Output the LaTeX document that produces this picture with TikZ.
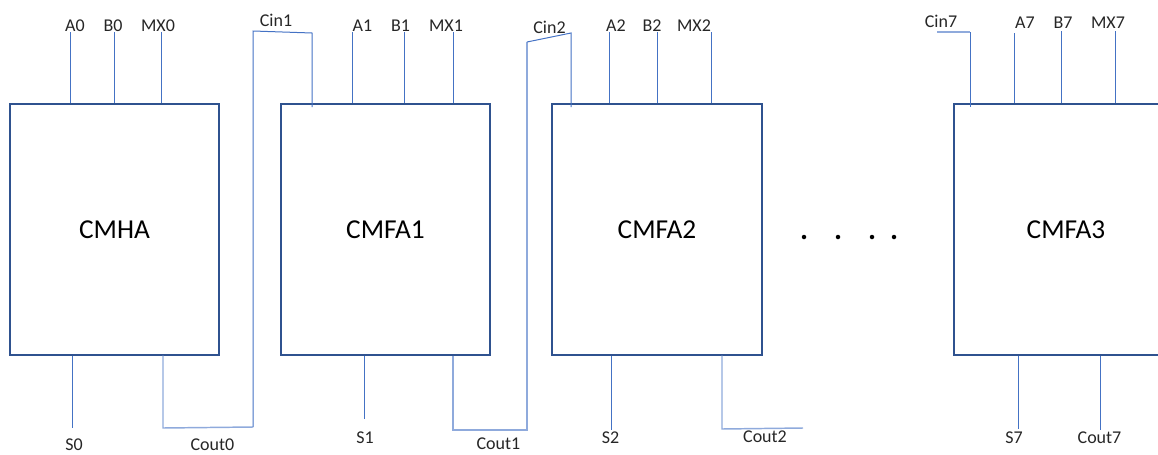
\documentclass[tikz,border=0pt]{standalone}
\usepackage{fontspec}
\setmainfont{Carlito}
\definecolor{boxblue}{HTML}{2F528F}
\definecolor{wireblue}{HTML}{4472C4}
\definecolor{lightwire}{HTML}{8FAADC}
\begin{document}
\begin{tikzpicture}[x=0.75pt,y=-0.75pt,
  blk/.style={draw=boxblue,line width=0.8pt,minimum height=251*0.75pt,inner sep=0pt,font=\fontsize{20.5}{23}\selectfont},
  wire/.style={draw=wireblue,line width=0.75pt},
  cwire/.style={draw=lightwire,line width=1.1pt},
  lbl/.style={font=\fontsize{13.5}{15}\selectfont,inner sep=0pt,text=black!85},
  dotc/.style={circle,fill=black,inner sep=0pt,minimum size=4.5*0.75pt}]
\clip (0,0) rectangle (1158,454);
\useasboundingbox (0,0) rectangle (1158,454);
% blocks
\node[blk,minimum width=209*0.75pt] (cmha) at (114.5,229.5) {CMHA};
\node[blk,minimum width=209*0.75pt] (cmfa1) at (385.5,229.5) {CMFA1};
\node[blk,minimum width=210*0.75pt] (cmfa2) at (657,229.5) {CMFA2};
\node[blk,minimum width=224*0.75pt] (cmfa3) at (1066,229.5) {CMFA3};
% top labels
\node[lbl] (A0) at (75,26) {A0};
\node[lbl] (B0) at (113,26) {B0};
\node[lbl] (MX0) at (158,26) {MX0};
\node[lbl] (Cin1) at (276,20) {Cin1};
\node[lbl] (A1) at (362.5,26) {A1};
\node[lbl] (B1) at (400.5,26) {B1};
\node[lbl] (MX1) at (446,26) {MX1};
\node[lbl] (Cin2) at (549.5,27.5) {Cin2};
\node[lbl] (A2) at (616,26) {A2};
\node[lbl] (B2) at (652,26) {B2};
\node[lbl] (MX2) at (694,26) {MX2};
\node[lbl] (Cin7) at (941,21) {Cin7};
\node[lbl] (A7) at (1025,23) {A7};
\node[lbl] (B7) at (1063,23) {B7};
\node[lbl] (MX7) at (1108,23) {MX7};
% bottom labels
\node[lbl] (S0) at (74,445) {S0};
\node[lbl] (Cout0) at (212.5,445) {Cout0};
\node[lbl] (S1) at (365,438) {S1};
\node[lbl] (Cout1) at (498.5,444) {Cout1};
\node[lbl] (S2) at (610.5,437.5) {S2};
\node[lbl] (Cout2) at (765,437) {Cout2};
\node[lbl] (S7) at (1014,438) {S7};
\node[lbl] (Cout7) at (1099.5,438) {Cout7};
% pin end coordinates
\coordinate (a0) at (70,32); \coordinate (b0) at (114,32); \coordinate (mx0) at (161,32);
\coordinate (a1) at (352,32); \coordinate (b1) at (404,32); \coordinate (mx1) at (453,32);
\coordinate (a2) at (609,32); \coordinate (b2) at (657,32); \coordinate (mx2) at (711,32);
\coordinate (a7) at (1014,33); \coordinate (b7) at (1061,31); \coordinate (mx7) at (1115,31);
\coordinate (s0) at (72,428); \coordinate (s1) at (364,419); \coordinate (s2) at (611,430);
\coordinate (s7) at (1018,429); \coordinate (c7) at (1100,430);
% top pins
\foreach \p/\b in {a0/cmha,b0/cmha,mx0/cmha,a1/cmfa1,b1/cmfa1,mx1/cmfa1,a2/cmfa2,b2/cmfa2,mx2/cmfa2,a7/cmfa3,b7/cmfa3,mx7/cmfa3}
  \draw[wire] (\p) -- (\p |- \b.north);
% bottom pins
\foreach \p/\b in {s0/cmha,s1/cmfa1,s2/cmfa2,s7/cmfa3,c7/cmfa3}
  \draw[wire] (\p |- \b.south) -- (\p);
% carry chain 0 -> 1
\coordinate (k0a) at (163,428); \coordinate (k0b) at (253,427);
\coordinate (k0c) at (253,31); \coordinate (k0d) at (312,33); \coordinate (k0e) at (312,107);
\draw[cwire] (k0a |- cmha.south) -- (k0a) -- (k0b);
\draw[wire] (k0b) -- (k0c) -- (k0d) -- (k0e);
% carry chain 1 -> 2
\coordinate (k1a) at (453,430); \coordinate (k1b) at (527,430);
\coordinate (k1c) at (527,42); \coordinate (k1d) at (571,33); \coordinate (k1e) at (571,107);
\draw[cwire] (k1a |- cmfa1.south) -- (k1a) -- (k1b) -- (k1c);
\draw[wire] (k1c) -- (k1d) -- (k1e);
% Cout2 stub
\coordinate (k2a) at (722,429); \coordinate (k2b) at (803,428);
\draw[cwire] (k2a |- cmfa2.south) -- (k2a) -- (k2b);
% Cin7 stub
\coordinate (k7a) at (937,32); \coordinate (k7b) at (970,32); \coordinate (k7c) at (970,107);
\draw[cwire] (k7a) -- (k7b);
\draw[wire] (k7b) -- (k7c);
% dots
\node[dotc] (d1) at (804,237) {};
\node[dotc] (d2) at (838,237) {};
\node[dotc] (d3) at (872,237) {};
\node[dotc] (d4) at (894,237) {};
\end{tikzpicture}
\end{document}
